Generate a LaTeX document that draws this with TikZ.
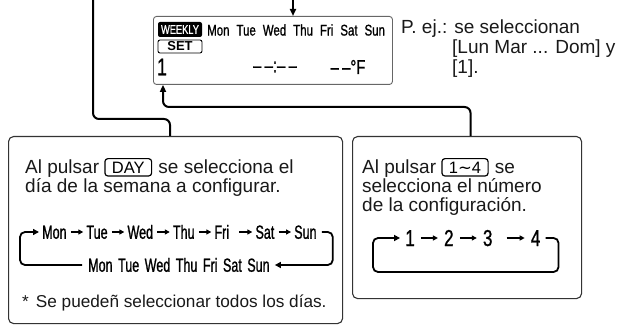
\documentclass[tikz,border=0pt]{standalone}
\usepackage{fontspec}
\setmainfont{Liberation Sans}
\newfontfamily\lcdfont[FakeStretch=0.74,FakeBold=1]{Liberation Sans}
\newfontfamily\dayfont[FakeStretch=0.66,FakeBold=1]{Liberation Sans}
\newfontfamily\symfont{DejaVu Sans}
\usepackage{xcolor}
\usetikzlibrary{arrows.meta, positioning}

\begin{document}
\begin{tikzpicture}[x=1pt, y=-1pt]
    \tikzstyle{panel} = [draw=black!80, line width=1.1pt, rounded corners=5pt, anchor=north west]
    \tikzstyle{lcd} = [draw=black!60, line width=0.9pt, rounded corners=3pt, anchor=north west]
    \tikzstyle{txt} = [inner sep=0pt, font=\fontsize{19}{22}\selectfont, text=black!90]
    \tikzstyle{key} = [draw, line width=1.2pt, rounded corners=3pt, inner xsep=7pt, inner ysep=3pt, font=\fontsize{16.5}{16.5}\selectfont]
    \tikzstyle{day} = [inner sep=0pt, text height=13.5pt, text depth=0pt, font=\dayfont\fontsize{19}{19}\selectfont]
    \tikzstyle{num} = [inner sep=0pt, text height=16pt, text depth=0pt, font=\lcdfont\fontsize{23}{23}\selectfont]
    \tikzstyle{line} = [draw, line width=2pt, rounded corners=6pt]
    \tikzstyle{seq} = [draw, line width=1.2pt, -{Triangle[length=5pt,width=5pt]}]
    \tikzstyle{loop} = [draw, line width=1.8pt, rounded corners=5pt]

    \useasboundingbox (0,0) rectangle (621,326);

    % display
    \node [lcd, minimum width=239pt, minimum height=68pt] (lcd) at (153,16) {};
    \node [fill=black, rounded corners=2pt, text=white, inner sep=0pt, minimum width=44pt, minimum height=15pt, font=\lcdfont\fontsize{12.5}{12.5}\selectfont] (weekly) at (180,29.5) {WEEKLY};
    \node [inner sep=0pt, anchor=west, font=\lcdfont\fontsize{15.5}{15.5}\selectfont] (lcddays) at (207,30) {Mon\hspace{7pt}Tue\hspace{7pt}Wed\hspace{7pt}Thu\hspace{7pt}Fri\hspace{7pt}Sat\hspace{7pt}Sun};
    \node [draw, rounded corners=2pt, line width=0.9pt, inner sep=0pt, minimum width=44pt, minimum height=13pt, font=\fontsize{13}{13}\selectfont\bfseries] (set) at (180,46.5) {SET};
    \node [inner sep=0pt, font=\lcdfont\fontsize{24}{24}\selectfont] (lcdnum) at (162,67) {1};
    \node [inner sep=0pt, font=\lcdfont\fontsize{20}{20}\selectfont] (clock) at (275,67) {–\,–:–\,–};
    \node [inner sep=0pt, font=\lcdfont\fontsize{20}{20}\selectfont] (temp) at (348,67) {–\,–°F};

    % example note
    \node [txt, anchor=base west] (ej1) at (401,34) {P. ej.: se seleccionan};
    \node [txt, anchor=base west] (ej2) at (452,54) {[Lun Mar ... Dom] y};
    \node [txt, anchor=base west] (ej3) at (452,74) {[1].};

    % day panel
    \node [panel, minimum width=334pt, minimum height=187pt] (daybox) at (8,136) {};
    \node [txt, anchor=base west] (dayl1) at (25,173) {Al pulsar};
    \node [key, base right=5pt of dayl1] (daykey) {DAY};
    \node [txt, base right=6pt of daykey] (dayl1b) {se selecciona el};
    \node [txt, anchor=base west] (dayl2) at (25,192) {día de la semana a configurar.};

    \node [day, anchor=west] (mon) at (42,232) {Mon};
    \node [day, right=19.5pt of mon] (tue) {Tue};
    \node [day, right=19.5pt of tue] (wed) {Wed};
    \node [day, right=19.5pt of wed] (thu) {Thu};
    \node [day, right=19.5pt of thu] (fri) {Fri};
    \node [day, right=26pt of fri] (sat) {Sat};
    \node [day, right=19.5pt of sat] (sun) {Sun};
    \node [day, anchor=west] (allrow) at (88,265) {Mon\hspace{5.5pt}Tue\hspace{5.5pt}Wed\hspace{5.5pt}Thu\hspace{5.5pt}Fri\hspace{5.5pt}Sat\hspace{5.5pt}Sun};

    \path [seq] ([xshift=4pt]mon.east) -- ([xshift=-3pt]tue.west);
    \path [seq] ([xshift=4pt]tue.east) -- ([xshift=-3pt]wed.west);
    \path [seq] ([xshift=4pt]wed.east) -- ([xshift=-3pt]thu.west);
    \path [seq] ([xshift=4pt]thu.east) -- ([xshift=-3pt]fri.west);
    \path [seq] ([xshift=10pt]fri.east) -- ([xshift=-3pt]sat.west);
    \path [seq] ([xshift=4pt]sat.east) -- ([xshift=-3pt]sun.west);
    \draw [loop, -{Triangle[length=6pt,width=6pt]}] ([xshift=5pt]sun.east) -- ++(11,0) |- ([xshift=5pt]allrow.east);
    \draw [loop, -{Triangle[length=6pt,width=6pt]}] ([xshift=-6pt]allrow.west) -- ++(-62,0) |- ([xshift=-3pt]mon.west);

    \node [txt, anchor=base west, font=\fontsize{17.2}{20}\selectfont] (note) at (22,307) {*\hspace{7pt}Se puedeñ seleccionar todos los días.};

    % number panel
    \node [panel, minimum width=229pt, minimum height=162pt] (numbox) at (352,136) {};
    \node [txt, anchor=base west] (numl1) at (362,173) {Al pulsar};
    \node [key, base right=5pt of numl1] (numkey) {1{\symfont ∼}4};
    \node [txt, base right=6pt of numkey] (numl1b) {se};
    \node [txt, anchor=base west] (numl2) at (362,192) {selecciona el número};
    \node [txt, anchor=base west] (numl3) at (362,211) {de la configuración.};

    \node [num] (n1) at (410,238) {1};
    \node [num, right=29pt of n1] (n2) {2};
    \node [num, right=29pt of n2] (n3) {3};
    \node [num, right=38pt of n3] (n4) {4};
    \path [seq] ([xshift=6pt]n1.east) -- ([xshift=-6pt]n2.west);
    \path [seq] ([xshift=6pt]n2.east) -- ([xshift=-6pt]n3.west);
    \path [seq] ([xshift=14pt]n3.east) -- ([xshift=-6pt]n4.west);
    \coordinate (numcorner) at (373,272);
    \draw [loop, -{Triangle[length=6pt,width=6pt]}] ([xshift=5pt]n4.east) -- ++(13,0) |- (numcorner) |- ([xshift=-5pt]n1.west);

    % connectors
    \coordinate (topleft) at (93,0);
    \coordinate (bendA) at (170,119);
    \draw [line] (topleft) |- (bendA) -- (bendA |- daybox.north);
    \coordinate (toparrow) at (293,0);
    \draw [line, -{Triangle[length=7pt,width=6pt]}] (toparrow) -- (toparrow |- lcd.north);
    \coordinate (bendB) at (163,107);
    \draw [line, -{Triangle[length=7pt,width=6pt]}] ([xshift=3.5pt]numbox.north) |- (bendB) -- (bendB |- lcd.south);
\end{tikzpicture}
\end{document}
